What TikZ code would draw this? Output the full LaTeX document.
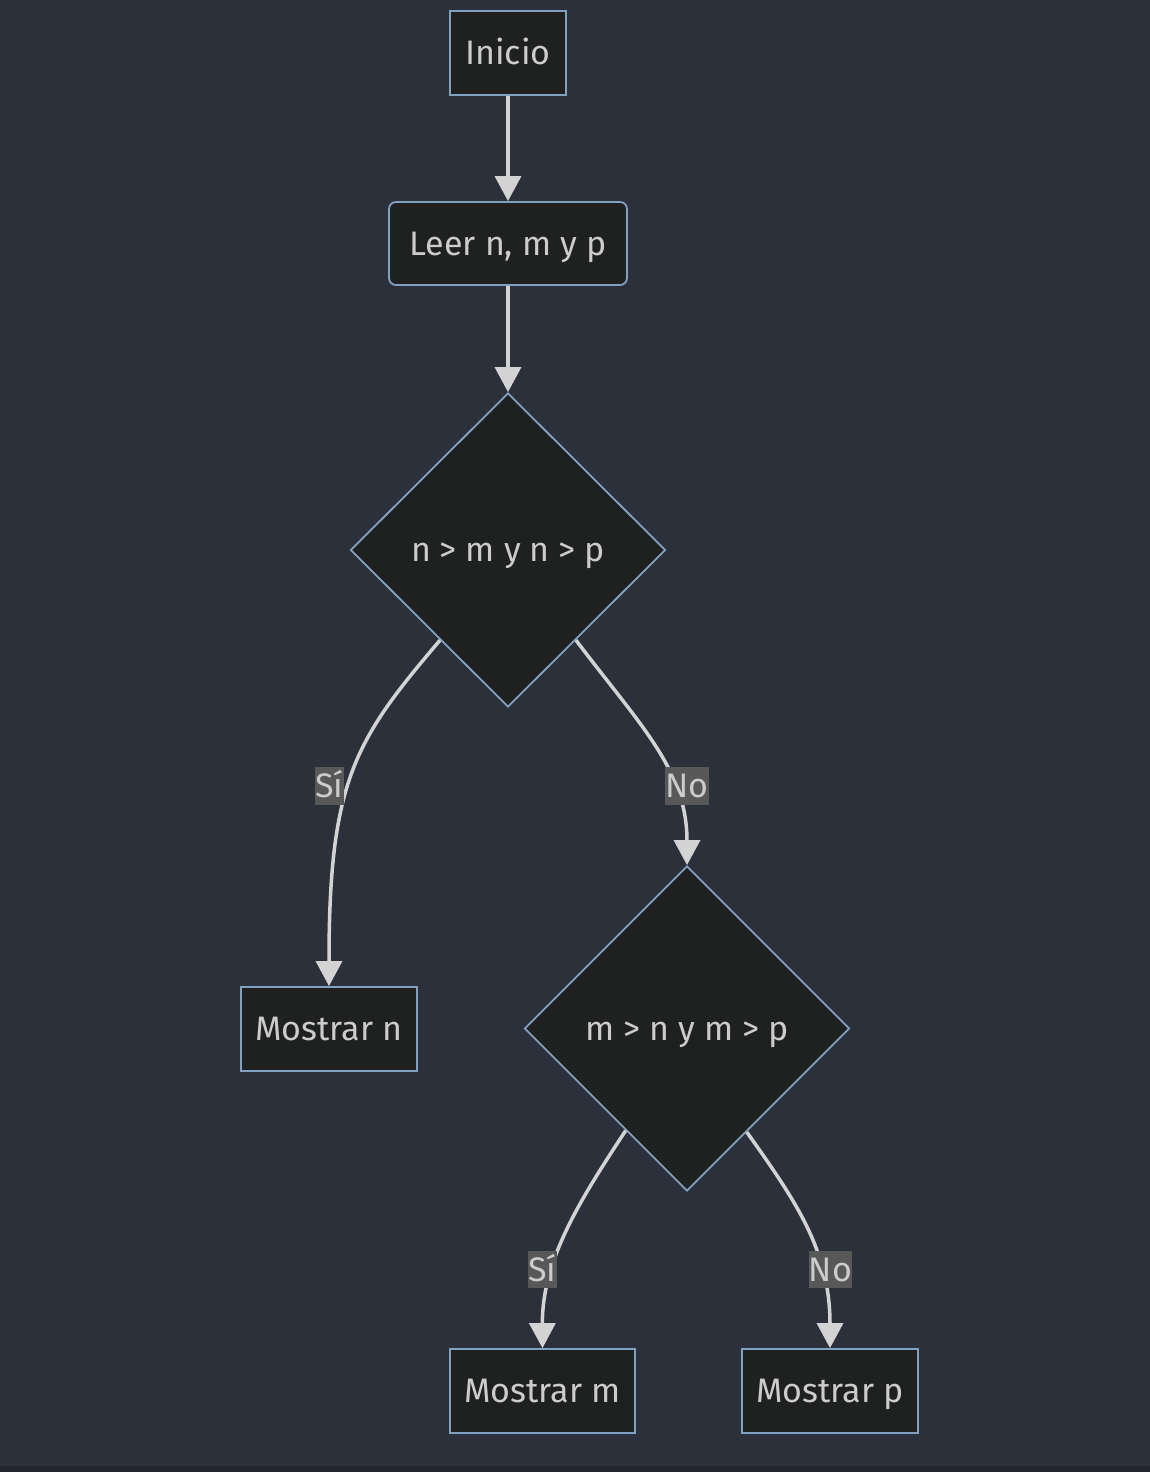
\documentclass[tikz,border=0pt]{standalone}
\usepackage{fontspec}
\setmainfont{Fira Sans}
\usetikzlibrary{shapes.geometric,arrows.meta}
\definecolor{bgc}{HTML}{2C303B}
\definecolor{bgstrip}{HTML}{23262E}
\definecolor{nodefill}{HTML}{1F2020}
\definecolor{nodeborder}{HTML}{81A1C1}
\definecolor{txt}{HTML}{CCCCCC}
\definecolor{edgec}{HTML}{D3D3D3}
\definecolor{lblbg}{HTML}{585858}
\tikzset{
  every node/.style={font=\fontsize{34}{40}\selectfont, text=txt, text height=23.5pt, text depth=0pt},
  box/.style={draw=nodeborder, fill=nodefill, line width=1.8pt, minimum height=84pt, inner sep=0pt},
  rbox/.style={box, rounded corners=7pt},
  dia/.style={diamond, draw=nodeborder, fill=nodefill, line width=1.8pt, inner sep=0pt, aspect=1},
  conn/.style={draw=edgec, line width=3.5pt, -{Triangle[length=25pt,width=26pt]}},
  elabel/.style={fill=lblbg, inner xsep=0pt, inner ysep=7pt, text=txt}
}
\begin{document}
\begin{tikzpicture}[x=1pt,y=-1pt]
\useasboundingbox (0,0) rectangle (1150,1472);
\fill[bgc] (0,0) rectangle (1150,1472);
\fill[bgstrip] (0,1466) rectangle (1150,1472);

\node[box, minimum width=116pt] (inicio) at (508,53) {Inicio};
\node[rbox, minimum width=238pt, minimum height=83pt] (leer) at (508,243.5) {Leer n, m y p};
\node[dia, minimum width=315pt, minimum height=314pt] (d1) at (508,550) {n > m y n > p};
\node[box, minimum width=176pt] (mn) at (329,1029) {Mostrar n};
\node[dia, minimum width=325pt, minimum height=325pt] (d2) at (687,1028.5) {m > n y m > p};
\node[box, minimum width=185pt] (mm) at (542.5,1391) {Mostrar m};
\node[box, minimum width=176pt] (mp) at (830,1391) {Mostrar p};

\draw[conn] (inicio.south) -- (leer.north);
\draw[conn] (leer.south) -- (d1.north);
\draw[conn] (d1.233) .. controls (355,740) and (329,780) .. (mn.north);
\draw[conn] (d1.307) .. controls (640,725) and (687,770) .. (d2.north);
\draw[conn] (d2.239.4) .. controls (580,1200) and (542,1260) .. (mm.north);
\draw[conn] (d2.300.6) .. controls (795,1200) and (830,1250) .. (mp.north);

\node[elabel] (l1) at (329.5,786) {Sí};
\node[elabel] (l2) at (687,786) {No};
\node[elabel] (l3) at (542.5,1269.5) {Sí};
\node[elabel] (l4) at (830.5,1269.5) {No};
\end{tikzpicture}
\end{document}
